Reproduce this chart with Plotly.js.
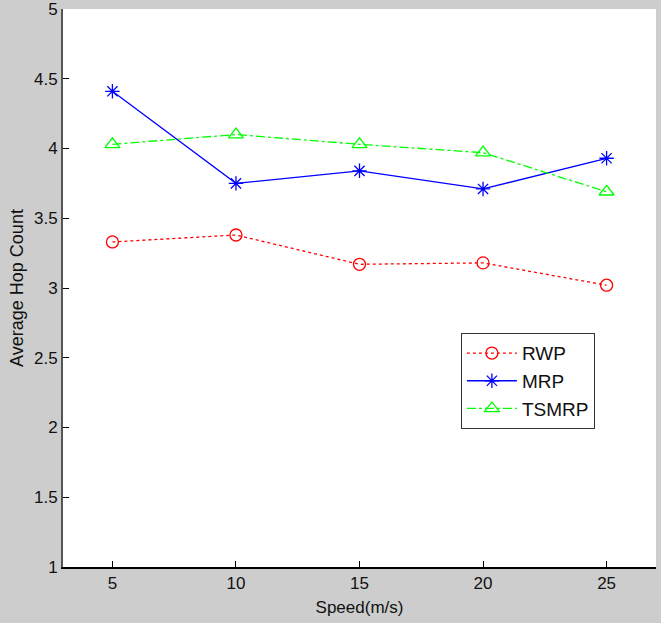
<!DOCTYPE html>
<html>
<head>
<meta charset="utf-8">
<script src="https://cdn.plot.ly/plotly-3.0.1.min.js"></script>
<style>html,body{margin:0;padding:0;background:#cdcdcd;}</style>
</head>
<body>
<div id="chart" style="width:661px;height:623px;"></div>
<script>
const speeds = [5, 10, 15, 20, 25];
const rwp = [3.33, 3.38, 3.17, 3.18, 3.02];
const mrp = [4.41, 3.75, 3.84, 3.71, 3.93];
const tsmrp = [4.03, 4.10, 4.03, 3.97, 3.69];
const xTicks = [5, 10, 15, 20, 25];
const yTicks = [1, 1.5, 2, 2.5, 3, 3.5, 4, 4.5, 5];

const traces = [
  {x: speeds, y: rwp, name: 'RWP', mode: 'lines+markers',
   line: {color: '#ff0000', width: 1.3, dash: 'dot'},
   marker: {symbol: 'circle-open', size: 12, color: '#ff0000', line: {width: 1.3}}},
  {x: speeds, y: mrp, name: 'MRP', mode: 'lines+markers',
   line: {color: '#0000ff', width: 1.3},
   marker: {symbol: 'asterisk-open', size: 12, color: '#0000ff', line: {width: 1.3, color: '#0000ff'}}},
  {x: speeds, y: tsmrp, name: 'TSMRP', mode: 'lines+markers',
   line: {color: '#00ff00', width: 1.3, dash: 'dashdot'},
   marker: {symbol: 'triangle-up-open', size: 13, color: '#00ff00', line: {width: 1.3}}}
];

const layout = {
  width: 661, height: 623,
  paper_bgcolor: '#cdcdcd', plot_bgcolor: '#ffffff',
  margin: {l: 63, r: 5, t: 9, b: 56},
  font: {family: 'Liberation Sans, Arial, sans-serif', size: 17, color: '#111'},
  showlegend: true,
  xaxis: {
    range: [3, 27], tickvals: xTicks, ticktext: xTicks.map(String),
    ticks: 'inside', ticklen: 6, tickcolor: '#000', tickwidth: 1,
    showgrid: false, zeroline: false, showline: true, linecolor: '#000', linewidth: 2,
    ticklabeloverflow: 'allow',
    tickfont: {size: 17}, title: {text: 'Speed(m/s)', font: {size: 17}, standoff: 9}
  },
  yaxis: {
    range: [1, 5], tickvals: yTicks, ticktext: yTicks.map(String),
    ticks: 'inside', ticklen: 6, tickcolor: '#000', tickwidth: 1,
    showgrid: false, zeroline: false, showline: true, linecolor: '#555', linewidth: 2,
    ticklabeloverflow: 'allow',
    tickfont: {size: 17}, title: {text: 'Average Hop Count', font: {size: 18}, standoff: 6}
  },
  legend: {
    x: 0.671, y: 0.419, xanchor: 'left', yanchor: 'top',
    bgcolor: '#ffffff', bordercolor: '#333', borderwidth: 1,
    font: {size: 19}, tracegroupgap: 0, itemwidth: 50
  }
};

Plotly.newPlot('chart', traces, layout, {displayModeBar: false, staticPlot: true});
</script>
</body>
</html>
